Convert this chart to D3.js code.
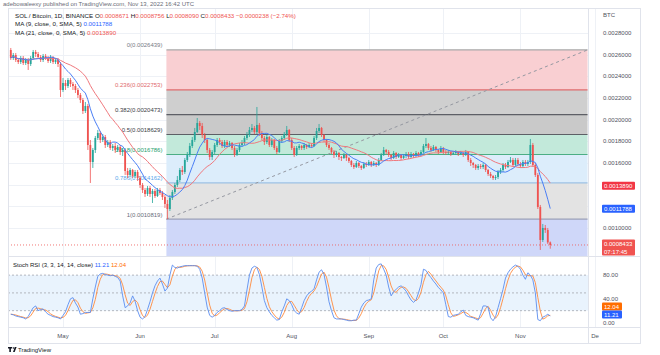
<!DOCTYPE html>
<html><head><meta charset="utf-8">
<script src="https://cdn.jsdelivr.net/npm/d3@7"></script>
<style>body{margin:0;background:#fff}svg{display:block;font-family:"Liberation Sans",Arial,sans-serif}</style>
</head><body><svg id="c" width="660" height="355"></svg>
<script>
// ---------------- DATA ----------------
const startDate = "2022-04-10";
const firstOpen = 0.0026431;
const closes = [
0.0025693,0.0025969,0.0025508,0.0025323,0.0025693,0.0025231,0.0025508,0.0025139,0.0025693,0.0026246,
0.0026062,0.0025785,0.0025508,0.0025877,0.0025693,0.0025416,0.0025785,0.0025323,0.0025508,0.0025139,
0.0022739,0.0023385,0.0023108,0.0023662,0.0023293,0.0023108,0.0022739,0.0022278,0.0021816,0.0020801,
0.0021262,0.0017663,0.0016093,0.0017201,0.0018309,0.0018770,0.0018124,0.0018401,0.0017663,0.0017939,
0.0017386,0.0017570,0.0017201,0.0017478,0.0017016,0.0017201,0.0015263,0.0014894,0.0015355,0.0014801,
0.0015170,0.0014617,0.0013971,0.0013509,0.0013140,0.0013694,0.0013140,0.0013417,0.0012955,0.0013509,
0.0013232,0.0012863,0.0012217,0.0011755,0.0012771,0.0013324,0.0013971,0.0014432,0.0015355,0.0015170,
0.0016278,0.0016740,0.0017570,0.0018124,0.0018862,0.0019693,0.0019416,0.0018586,0.0018124,0.0017201,
0.0016555,0.0017016,0.0017663,0.0018124,0.0017939,0.0017570,0.0017939,0.0017663,0.0017847,0.0017386,
0.0016740,0.0017201,0.0017663,0.0017847,0.0018309,0.0018586,0.0019047,0.0019232,0.0018862,0.0019509,
0.0018770,0.0018309,0.0017939,0.0018401,0.0017663,0.0018124,0.0017386,0.0017016,0.0018032,0.0018309,
0.0018678,0.0019047,0.0018124,0.0017386,0.0016740,0.0017386,0.0017570,0.0017386,0.0017663,0.0017478,
0.0017663,0.0017570,0.0018309,0.0018955,0.0019232,0.0018586,0.0018124,0.0017663,0.0017386,0.0017016,
0.0016740,0.0016924,0.0016555,0.0016463,0.0016740,0.0016463,0.0016186,0.0015817,0.0015632,0.0016001,
0.0015724,0.0015540,0.0015909,0.0015817,0.0016093,0.0015817,0.0016001,0.0015817,0.0016278,0.0016740,
0.0017201,0.0017016,0.0016740,0.0016463,0.0016924,0.0016555,0.0016740,0.0016463,0.0016647,0.0016832,
0.0016555,0.0016832,0.0016647,0.0016924,0.0016740,0.0017016,0.0017570,0.0017755,0.0017386,0.0017201,
0.0017478,0.0017201,0.0017016,0.0017386,0.0017016,0.0016924,0.0017016,0.0016832,0.0016924,0.0017016,
0.0016832,0.0016924,0.0016740,0.0017016,0.0016278,0.0016001,0.0015817,0.0015540,0.0015724,0.0015632,
0.0015817,0.0015355,0.0014986,0.0014801,0.0014617,0.0014709,0.0015170,0.0015355,0.0015817,0.0015632,
0.0016093,0.0016278,0.0015817,0.0016278,0.0015909,0.0015724,0.0016093,0.0015909,0.0016093,0.0017663,
0.0015817,0.0014894,0.0011940,0.0008894,0.0010002,0.0009817,0.0008671,0.0008433];
const highs = [
0.0026616,0.0026154,0.0026154,0.0025693,0.0025877,0.0025877,0.0025693,0.0025693,0.0025877,0.0026431,
0.0026431,0.0026246,0.0025969,0.0026062,0.0026062,0.0025877,0.0025969,0.0025877,0.0025693,0.0025693,
0.0025323,0.0023847,0.0023662,0.0023847,0.0023847,0.0023477,0.0023293,0.0022924,0.0022462,0.0022001,
0.0021631,0.0021447,0.0018124,0.0017386,0.0018493,0.0019047,0.0018955,0.0018678,0.0018586,0.0018124,
0.0018124,0.0017755,0.0017847,0.0017663,0.0017663,0.0017386,0.0017293,0.0015540,0.0015540,0.0015447,
0.0015355,0.0015355,0.0014801,0.0014155,0.0013694,0.0013878,0.0013878,0.0013601,0.0013601,0.0013694,
0.0013694,0.0013417,0.0013048,0.0012586,0.0013048,0.0013509,0.0014155,0.0014801,0.0015540,0.0015724,
0.0016463,0.0017016,0.0017847,0.0018401,0.0019232,0.0020155,0.0019878,0.0019693,0.0018770,0.0018309,
0.0017386,0.0017201,0.0017847,0.0018309,0.0018309,0.0018124,0.0018124,0.0018124,0.0018032,0.0017939,
0.0017570,0.0017386,0.0017847,0.0018124,0.0018493,0.0018862,0.0019324,0.0019601,0.0019416,0.0021170,
0.0019693,0.0018955,0.0018493,0.0018586,0.0018493,0.0018309,0.0018216,0.0017570,0.0018216,0.0018493,
0.0018862,0.0019416,0.0019139,0.0018309,0.0017570,0.0017570,0.0017755,0.0017663,0.0017847,0.0017755,
0.0017847,0.0017847,0.0018493,0.0019232,0.0019601,0.0019324,0.0018678,0.0018216,0.0017847,0.0017478,
0.0017201,0.0017109,0.0017016,0.0016647,0.0016924,0.0016832,0.0016555,0.0016278,0.0016001,0.0016186,
0.0016093,0.0015817,0.0016093,0.0016093,0.0016278,0.0016186,0.0016186,0.0016093,0.0016463,0.0016924,
0.0017478,0.0017293,0.0017201,0.0016832,0.0017109,0.0017016,0.0016924,0.0016832,0.0016832,0.0017016,
0.0017016,0.0017016,0.0016924,0.0017109,0.0017016,0.0017201,0.0017755,0.0018309,0.0017847,0.0017570,
0.0017663,0.0017570,0.0017293,0.0017570,0.0017478,0.0017201,0.0017201,0.0017109,0.0017109,0.0017201,
0.0017109,0.0017109,0.0017016,0.0017201,0.0017109,0.0016463,0.0016093,0.0015909,0.0015909,0.0015909,
0.0016001,0.0015909,0.0015447,0.0015170,0.0014894,0.0014894,0.0015355,0.0015540,0.0016001,0.0016001,
0.0016278,0.0016555,0.0016463,0.0016463,0.0016463,0.0016093,0.0016278,0.0016278,0.0016278,0.0018216,
0.0017847,0.0016001,0.0015078,0.0012125,0.0010371,0.0010279,0.0010002,0.0008756];
const lows = [
0.0025508,0.0025508,0.0025323,0.0025139,0.0025139,0.0025047,0.0025047,0.0024585,0.0024954,0.0025508,
0.0025785,0.0025600,0.0025323,0.0025323,0.0025508,0.0025231,0.0025231,0.0025139,0.0025139,0.0024862,
0.0022093,0.0022554,0.0022739,0.0022924,0.0023016,0.0022739,0.0022462,0.0022001,0.0021539,0.0020524,
0.0020616,0.0017201,0.0014155,0.0015540,0.0016924,0.0018124,0.0017847,0.0017939,0.0017386,0.0017478,
0.0017201,0.0017109,0.0016924,0.0017016,0.0016740,0.0016647,0.0014894,0.0014617,0.0014709,0.0014617,
0.0014617,0.0014340,0.0013694,0.0013232,0.0012863,0.0012955,0.0012863,0.0012309,0.0012771,0.0012863,
0.0013048,0.0012586,0.0011848,0.0010819,0.0011571,0.0012586,0.0013140,0.0013786,0.0014247,0.0014894,
0.0014986,0.0016093,0.0016555,0.0017386,0.0017939,0.0018770,0.0019047,0.0018309,0.0017847,0.0016924,
0.0016278,0.0016278,0.0016832,0.0017478,0.0017663,0.0017386,0.0017386,0.0017478,0.0017478,0.0017201,
0.0016555,0.0016647,0.0017016,0.0017478,0.0017663,0.0018124,0.0018401,0.0018862,0.0018678,0.0018678,
0.0018493,0.0018124,0.0017663,0.0017755,0.0017478,0.0017478,0.0017201,0.0016832,0.0016924,0.0017847,
0.0018124,0.0018493,0.0017939,0.0017201,0.0016555,0.0016647,0.0017201,0.0017201,0.0017201,0.0017293,
0.0017386,0.0017386,0.0017478,0.0018124,0.0018770,0.0018401,0.0017939,0.0017478,0.0017201,0.0016832,
0.0016463,0.0016555,0.0016278,0.0016186,0.0016370,0.0016186,0.0016001,0.0015632,0.0015447,0.0015540,
0.0015540,0.0015355,0.0015447,0.0015632,0.0015724,0.0015632,0.0015724,0.0015632,0.0015724,0.0016186,
0.0016647,0.0016832,0.0016555,0.0016278,0.0016370,0.0016370,0.0016463,0.0016278,0.0016370,0.0016463,
0.0016370,0.0016463,0.0016463,0.0016555,0.0016555,0.0016647,0.0016924,0.0017386,0.0017201,0.0017016,
0.0017109,0.0017016,0.0016832,0.0016924,0.0016832,0.0016740,0.0016740,0.0016647,0.0016740,0.0016740,
0.0016647,0.0016740,0.0016555,0.0016647,0.0016093,0.0015724,0.0015540,0.0015355,0.0015355,0.0015447,
0.0015447,0.0015170,0.0014801,0.0014617,0.0014432,0.0014432,0.0014524,0.0014986,0.0015170,0.0015447,
0.0015540,0.0016001,0.0015632,0.0015724,0.0015724,0.0015540,0.0015540,0.0015724,0.0015724,0.0015909,
0.0015632,0.0014709,0.0011755,0.0007971,0.0008709,0.0009540,0.0008525,0.0008090];
const stochK = [
14,13,11,10,9,8,6,10,18,25, 28,20,22,23,18,14,12,10,9,8,
6,12,18,30,40,42,33,26,14,15, 17,17,17,40,60,78,82,83,81,80,
79,80,78,76,70,45,25,28,33,45, 36,20,9,6,10,22,35,50,62,70,
75,65,53,58,80,97,93,92,94,95, 96,96,96,96,96,95,90,75,50,26,
12,9,12,17,20,24,25,22,20,19, 20,20,20,22,28,55,80,92,95,93,
81,60,37,25,18,12,8,4,5,18, 28,40,37,30,20,16,14,25,37,45,
50,53,57,72,85,89,81,60,35,20, 8,6,6,6,5,4,3,3,4,4,
15,26,33,37,38,40,72,92,98,99, 90,80,60,45,52,56,60,62,58,53,
45,38,34,38,50,64,90,88,81,76, 70,65,59,55,50,30,10,9,12,13,
14,18,21,12,10,9,8,6,4,15, 28,28,26,8,3,10,25,40,56,75,
84,90,94,97,95,90,80,73,84,80, 72,50,5,3,9,11,13.91,11.21];
const maLegend = [0.0011788, 0.0013890];      // MA9, MA21 last values
const fibLevels = [0, 0.236, 0.382, 0.5, 0.618, 0.786, 1];
const fibPrices = [0.0026439, 0.0022753, 0.0020473, 0.0018629, 0.0016786, 0.0014162, 0.0010819];
const fibStartDate = "2022-06-12", fibEndDate = "2022-11-28";
const priceTicks = [0.0010, 0.0012, 0.0014, 0.0016, 0.0018, 0.0020, 0.0022, 0.0024, 0.0026, 0.0028];
const rsiTicks = [0, 40, 80];
const rsiBands = [80, 50, 20];
const monthLabels = ["May","Jun","Jul","Aug","Sep","Oct","Nov","De"];
const monthDates = ["2022-05-01","2022-06-01","2022-07-01","2022-08-01","2022-09-01","2022-10-01","2022-11-01","2022-12-01"];
const countdown = "07:17:45";

// ---------------- STYLE ----------------
const UP = "#26a69a", DOWN = "#ef5350";
const fibFill = ["#f9cfd2","#cfcfcf","#c9c9c9","#c2e9da","#dcedfb","#e3e3e3"];
const fibBelowFill = "#cfd7f9";
const fibLine = ["#a9a9a9","#e06a6d","#5d5f66","#5d5f66","#4cae84","#9cc1e4","#9aa0b8"];
const fibText = ["#787b86","#e06a6d","#3a3d45","#3a3d45","#26a06c","#5aa6ea","#6a6e7a"];

// ---------------- SETUP ----------------
const svg = d3.select("#c");
const parse = d3.utcParse("%Y-%m-%d");
const fmt7 = d3.format(".7f");
const t0 = parse(startDate);
const dates = closes.map((_, i) => d3.utcDay.offset(t0, i));
const opens = closes.map((c, i) => i === 0 ? firstOpen : closes[i - 1]);
const sma = (arr, n) => arr.map((_, i) => d3.mean(arr.slice(Math.max(0, i - n + 1), i + 1)));
const ma9 = sma(closes, 9), ma21 = sma(closes, 21);
const stochD = sma(stochK, 3);

const PL = 8, PR = 588, PT = 8, PB = 256, RT = 257, RB = 327, FR = 640, FB = 343;
const x = d3.scaleUtc().domain([parse("2022-05-01"), parse("2022-12-01")]).range([63, 595]);
const y = d3.scaleLinear().domain([0.0010, 0.0028]).range([228, 33]);
const yr = d3.scaleLinear().domain([0, 100]).range([322.5, 263.3]);

const defs = svg.append("defs");
defs.append("clipPath").attr("id","cm").append("rect").attr("x",PL).attr("y",PT).attr("width",PR-PL).attr("height",PB-PT);
defs.append("clipPath").attr("id","cr").append("rect").attr("x",PL).attr("y",RT).attr("width",PR-PL).attr("height",RB-RT);

svg.append("rect").attr("width",660).attr("height",355).attr("fill","#fff");
svg.append("text").attr("x",3).attr("y",5.5).attr("font-size",6).attr("fill","#6a6d78")
  .text("adebowaleexy published on TradingView.com, Nov 13, 2022 16:42 UTC");

// grid
const grid = svg.append("g").attr("stroke","#eef1f6").attr("stroke-width",1);
monthDates.forEach(d => { const xx = Math.round(x(parse(d))) + 0.5;
  grid.append("line").attr("x1",xx).attr("x2",xx).attr("y1",PT).attr("y2",RB); });
priceTicks.forEach(p => { const yy = Math.round(y(p)) + 0.5;
  grid.append("line").attr("x1",PL).attr("x2",PR).attr("y1",yy).attr("y2",yy); });

// ---------------- MAIN PANE ----------------
const gm = svg.append("g").attr("clip-path","url(#cm)");
const xs = x(parse(fibStartDate)) - 1, xe = x(parse(fibEndDate));
for (let k = 0; k < fibPrices.length - 1; k++) {
  gm.append("rect").attr("x",xs).attr("width",xe - xs)
    .attr("y",y(fibPrices[k])).attr("height",y(fibPrices[k+1]) - y(fibPrices[k])).attr("fill",fibFill[k]);
}
gm.append("rect").attr("x",xs).attr("width",xe - xs).attr("y",y(fibPrices[fibPrices.length-1]))
  .attr("height",PB - y(fibPrices[fibPrices.length-1])).attr("fill",fibBelowFill);
fibPrices.forEach((p, k) => {
  gm.append("line").attr("x1",xs).attr("x2",xe).attr("y1",y(p)).attr("y2",y(p))
    .attr("stroke",fibLine[k]).attr("stroke-width",1.2);
  gm.append("text").attr("x",xs - 4).attr("y",y(p) - 2.5).attr("text-anchor","end")
    .attr("font-size",6).attr("fill",fibText[k]).text(`${fibLevels[k]}(${fmt7(p)})`);
});
gm.append("line").attr("x1",xs).attr("y1",y(fibPrices[fibPrices.length-1]))
  .attr("x2",xe).attr("y2",y(fibPrices[0])).attr("stroke","#9598a1").attr("stroke-width",1)
  .attr("stroke-dasharray","3,3");

// candles
const cg = gm.append("g");
closes.forEach((c, i) => {
  const o = opens[i], col = c >= o ? UP : DOWN, cx = x(dates[i]);
  cg.append("line").attr("x1",cx).attr("x2",cx).attr("y1",y(highs[i])).attr("y2",y(lows[i]))
    .attr("stroke",col).attr("stroke-width",0.8);
  const top = y(Math.max(o, c)), h = Math.max(0.8, Math.abs(y(o) - y(c)));
  cg.append("rect").attr("x",cx - 0.9).attr("width",1.8).attr("y",top).attr("height",h).attr("fill",col);
});
const lineP = d3.line().x((d, i) => x(dates[i])).y(d => y(d));
gm.append("path").attr("d",lineP(ma21)).attr("fill","none").attr("stroke","#f0787d").attr("stroke-width",1);
gm.append("path").attr("d",lineP(ma9)).attr("fill","none").attr("stroke","#4a7ef5").attr("stroke-width",1);
const lastC = closes[closes.length-1];
gm.append("line").attr("x1",PL).attr("x2",PR).attr("y1",y(lastC)).attr("y2",y(lastC))
  .attr("stroke",DOWN).attr("stroke-width",0.8).attr("stroke-dasharray","1,2");

// header legend
const lastO = opens[opens.length-1], lastH = highs[highs.length-1], lastL = lows[lows.length-1];
const prevC = closes[closes.length-2], chg = lastC - prevC;
const l1 = svg.append("text").attr("x",15).attr("y",17.5).attr("font-size",6.2).attr("fill","#131722");
l1.append("tspan").text("SOL / Bitcoin, 1D, BINANCE");
[["O",lastO],["H",lastH],["L",lastL],["C",lastC]].forEach(([k,v]) => {
  l1.append("tspan").attr("fill","#131722").text(" " + k);
  l1.append("tspan").attr("fill",DOWN).text(fmt7(v));
});
l1.append("tspan").attr("fill",DOWN).text(" \u2212" + fmt7(Math.abs(chg)) + " (\u2212" + d3.format(".2f")(Math.abs(chg / prevC * 100)) + "%)");
const l2 = svg.append("text").attr("x",15).attr("y",26).attr("font-size",6.2).attr("fill","#131722");
l2.append("tspan").text("MA (9, close, 0, SMA, 5) ");
l2.append("tspan").attr("fill","#2962ff").text(fmt7(maLegend[0]));
const l3 = svg.append("text").attr("x",15).attr("y",34.5).attr("font-size",6.2).attr("fill","#131722");
l3.append("tspan").text("MA (21, close, 0, SMA, 5) ");
l3.append("tspan").attr("fill",DOWN).text(fmt7(maLegend[1]));

// ---------------- RSI PANE ----------------
const gr = svg.append("g").attr("clip-path","url(#cr)");
gr.append("rect").attr("x",PL).attr("width",PR-PL).attr("y",yr(80)).attr("height",yr(20)-yr(80)).attr("fill","#e9f3fd");
rsiBands.forEach(v => gr.append("line").attr("x1",PL).attr("x2",PR).attr("y1",yr(v)).attr("y2",yr(v))
  .attr("stroke","#a3a6af").attr("stroke-width",0.8).attr("stroke-dasharray","2,2"));
const lineR = d3.line().x((d, i) => x(dates[i])).y(d => yr(d));
gr.append("path").attr("d",lineR(stochD)).attr("fill","none").attr("stroke","#ff8a3d").attr("stroke-width",0.9);
gr.append("path").attr("d",lineR(stochK)).attr("fill","none").attr("stroke","#5b8def").attr("stroke-width",0.9);
const rl = svg.append("text").attr("x",13).attr("y",266.5).attr("font-size",6).attr("fill","#131722");
rl.append("tspan").text("Stoch RSI (3, 3, 14, 14, close) ");
rl.append("tspan").attr("fill","#2962ff").text(d3.format(".2f")(stochK[stochK.length-1]));
rl.append("tspan").attr("fill","#ff6d00").text(" " + d3.format(".2f")(stochD[stochD.length-1]));

// ---------------- FRAME / SEPARATORS ----------------
const fr = svg.append("g").attr("stroke","#e0e3eb").attr("stroke-width",1).attr("fill","none");
fr.append("rect").attr("x",PL+0.5).attr("y",PT+0.5).attr("width",FR-PL).attr("height",FB-PT);
fr.append("line").attr("x1",PL).attr("x2",FR).attr("y1",PB+0.5).attr("y2",PB+0.5);
fr.append("line").attr("x1",PL).attr("x2",FR).attr("y1",RB+0.5).attr("y2",RB+0.5);
fr.append("line").attr("x1",PR+0.5).attr("x2",PR+0.5).attr("y1",PT).attr("y2",FB);

// ---------------- AXES ----------------
const tagYs = [y(maLegend[1]), y(maLegend[0]), y(lastC) + 2.5];
const ax = svg.append("g").attr("font-size",6).attr("fill","#50535e");
ax.append("text").attr("x",603).attr("y",17).text("BTC");
priceTicks.filter(p => tagYs.every(t => Math.abs(y(p) - t) > 7))
  .forEach(p => ax.append("text").attr("x",603).attr("y",y(p) + 2).text(fmt7(p)));
rsiTicks.forEach(v => ax.append("text").attr("x",603).attr("y",yr(v) + 2).text(d3.format(".2f")(v)));
monthLabels.forEach((m, i) => ax.append("text").attr("x",x(parse(monthDates[i]))).attr("y",337.5)
  .attr("text-anchor","middle").text(m));

function tag(yc, lines, color, w) {
  const h = 8 * lines.length;
  svg.append("rect").attr("x",602).attr("y",yc - 4).attr("width",w).attr("height",h).attr("rx",1).attr("fill",color);
  lines.forEach((t, j) => svg.append("text").attr("x",604).attr("y",yc + 2.1 + j * 8)
    .attr("font-size",6).attr("fill","#fff").text(t));
}
tag(y(maLegend[1]), [fmt7(maLegend[1])], "#f23645", 33);
tag(y(maLegend[0]), [fmt7(maLegend[0])], "#2962ff", 33);
tag(y(lastC) - 1.5, [fmt7(lastC), countdown], "#f05350", 33);
tag(306.5, [d3.format(".2f")(stochD[stochD.length-1])], "#ff6d00", 20);
tag(314.5, [d3.format(".2f")(stochK[stochK.length-1])], "#2962ff", 20);

// ---------------- LOGO ----------------
const lg = svg.append("g").attr("fill","#131722");
lg.append("path").attr("d","M8 347h4.2v1.4h-1.3v3.6h-1.6v-3.6H8z");
lg.append("circle").attr("cx",13.6).attr("cy",348).attr("r",0.8);
lg.append("path").attr("d","M14.8 347h1.8l-1.9 5h-1.7z");
svg.append("text").attr("x",18).attr("y",351.8).attr("font-size",6).attr("fill","#131722").text("TradingView");
</script></body></html>
